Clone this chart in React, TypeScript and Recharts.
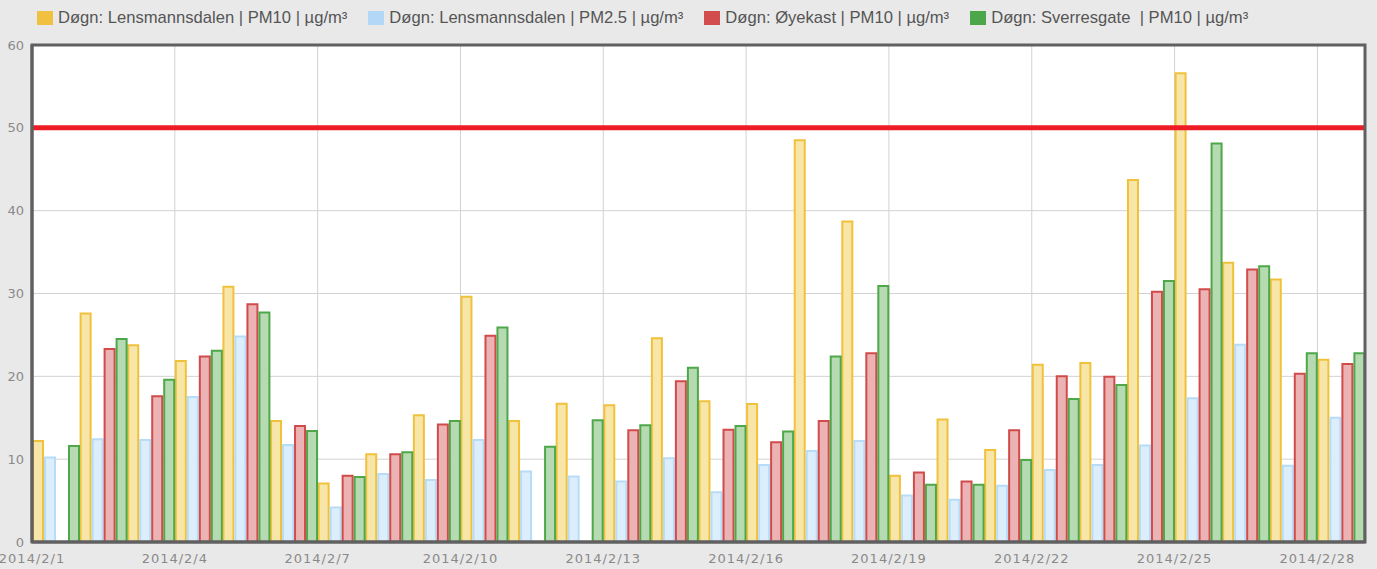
import { BarChart, Bar, XAxis, YAxis, CartesianGrid, ReferenceLine, ReferenceArea, Rectangle } from 'recharts'

// Feb 2014, daily means
const days = Array.from({ length: 28 }, (_, i) => `2014/2/${i + 1}`)

const lensPM10 = [12.2, 27.6, 23.75, 21.85, 30.8, 14.6, 7.05, 10.6, 15.3, 29.6, 14.6, 16.7, 16.5, 24.6, 17.0, 16.65, 48.5, 38.7, 8.0, 14.8, 11.1, 21.4, 21.6, 43.7, 56.6, 33.7, 31.7, 22.0]
const lensPM25 = [10.2, 12.4, 12.3, 17.5, 24.8, 11.7, 4.15, 8.2, 7.5, 12.3, 8.5, 7.9, 7.3, 10.1, 6.0, 9.3, 11.0, 12.2, 5.6, 5.1, 6.8, 8.7, 9.3, 11.65, 17.35, 23.8, 9.2, 15.0]
const oyekastPM10 = [null, 23.3, 17.6, 22.4, 28.7, 14.0, 8.0, 10.6, 14.2, 24.9, null, null, 13.5, 19.4, 13.55, 12.05, 14.6, 22.8, 8.4, 7.3, 13.5, 20.0, 19.95, 30.2, 30.5, 32.9, 20.3, 21.5]
const sverresPM10 = [11.6, 24.5, 19.6, 23.1, 27.7, 13.4, 7.85, 10.85, 14.6, 25.9, 11.5, 14.7, 14.1, 21.05, 14.0, 13.35, 22.4, 30.9, 6.9, 6.9, 9.9, 17.25, 18.95, 31.5, 48.1, 33.3, 22.8, 22.8]

const yTicks = [0, 10, 20, 30, 40, 50, 60]
const limit = 50

const series = [
  { key: 'lensPM10', name: 'Døgn: Lensmannsdalen | PM10 | µg/m³', stroke: '#f0c13b', fill: '#f8e5a8', swatch: '#f0c040' },
  { key: 'lensPM25', name: 'Døgn: Lensmannsdalen | PM2.5 | µg/m³', stroke: '#b7dcf8', fill: '#dcedfc', swatch: '#b3d8f7' },
  { key: 'oyekastPM10', name: 'Døgn: Øyekast | PM10 | µg/m³', stroke: '#d14b4b', fill: '#ebb3b3', swatch: '#d24d4d' },
  { key: 'sverresPM10', name: 'Døgn: Sverresgate  | PM10 | µg/m³', stroke: '#4ea84a', fill: '#b6dbb2', swatch: '#4da64a' },
]

const data = days.map((day, i) => ({
  day,
  lensPM10: lensPM10[i],
  lensPM25: lensPM25[i],
  oyekastPM10: oyekastPM10[i],
  sverresPM10: sverresPM10[i],
}))

const tickFont = { fontFamily: '"DejaVu Sans", Verdana, sans-serif', fontSize: 13, fill: '#8a8a8a' }
const frame = { stroke: '#606060', strokeWidth: 3 }

// labels sit at the start of each day's band, not its centre
function DayTick({ x, y, payload }: any) {
  const half = payload?.offset ?? 0
  return (
    <text x={x - half} y={y} dy={13} textAnchor="middle" letterSpacing={1} {...tickFont}>
      {payload.value}
    </text>
  )
}

// skip missing days instead of drawing a flat outline
function BarShape(props: any) {
  if (!props.height || props.height <= 0) return null
  return <Rectangle {...props} />
}

function Legend() {
  return (
    <div
      style={{
        position: 'absolute',
        top: 8,
        left: 37,
        display: 'flex',
        gap: 21,
        fontFamily: '"Liberation Sans", Arial, sans-serif',
        fontSize: 16.6,
        lineHeight: '19px',
        color: '#555',
        whiteSpace: 'pre',
      }}
    >
      {series.map((s) => (
        <div key={s.key} style={{ display: 'flex', alignItems: 'center', gap: 5 }}>
          <div style={{ width: 16, height: 14, background: s.swatch }} />
          <span>{s.name}</span>
        </div>
      ))}
    </div>
  )
}

export default function App() {
  return (
    <div style={{ position: 'absolute', left: 0, top: 0, width: 1377, height: 569, background: '#e9e9e9' }}>
      <Legend />
      <BarChart
        width={1377}
        height={569}
        data={data}
        margin={{ top: 45, right: 12, bottom: 0, left: 0 }}
        barGap={2}
        barCategoryGap={1}
      >
        <CartesianGrid
          stroke="#d2d2d2"
          fill="#fff"
          verticalCoordinatesGenerator={({ offset }: any) =>
            days.map((_, i) => offset.left + (i * offset.width) / days.length).filter((_, i) => i % 3 === 0)
          }
        />
        <XAxis
          dataKey="day"
          interval={2}
          axisLine={frame}
          tickLine={false}
          height={27}
          tick={<DayTick />}
        />
        <YAxis
          domain={[0, 60]}
          ticks={yTicks}
          axisLine={frame}
          tickLine={false}
          width={32}
          tick={tickFont}
          tickMargin={2}
        />
        {series.map((s) => (
          <Bar
            key={s.key}
            dataKey={s.key}
            name={s.name}
            fill={s.fill}
            stroke={s.stroke}
            strokeWidth={2}
            shape={<BarShape />}
            isAnimationActive={false}
          />
        ))}
        <ReferenceLine y={limit} stroke="#ee1c24" strokeWidth={5} />
        <ReferenceArea y1={0} y2={60} fill="none" {...frame} zIndex={600} />
      </BarChart>
    </div>
  )
}
